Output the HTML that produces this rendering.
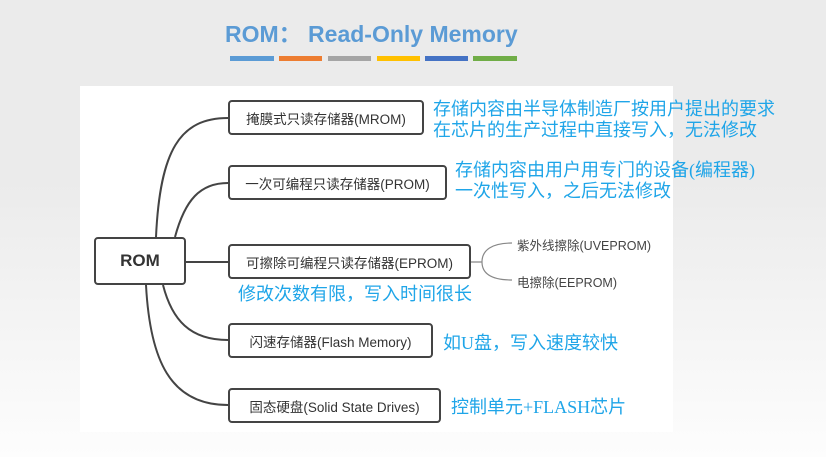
<!DOCTYPE html>
<html><head><meta charset="utf-8"><style>
body{margin:0;width:826px;height:457px;overflow:hidden;background:linear-gradient(#ebebeb 0,#ebebeb 40%,#fdfdfd 100%);font-family:"Liberation Sans","Noto Sans CJK SC",sans-serif;position:relative}
.a{position:absolute}
.box{position:absolute;border:2px solid #444;border-radius:4px;background:#fff;color:#333;font-size:13.5px;display:flex;align-items:center;justify-content:center;box-sizing:border-box;white-space:nowrap}
.n{position:absolute;color:#1fa5e8;font-size:18px;line-height:21px;white-space:nowrap;font-family:"Liberation Serif","Noto Sans CJK SC",sans-serif}
.s{position:absolute;color:#444;font-size:12.5px;white-space:nowrap}
</style></head><body>
<span class="a" style="left:225px;top:15px;font-size:23px;font-weight:bold;color:#5b9bd5">ROM：&nbsp;Read-Only Memory</span>
<div class="a" style="left:230px;top:56px;width:44px;height:5px;background:#5b9bd5"></div>
<div class="a" style="left:279px;top:56px;width:43px;height:5px;background:#ed7d31"></div>
<div class="a" style="left:328px;top:56px;width:43px;height:5px;background:#a5a5a5"></div>
<div class="a" style="left:377px;top:56px;width:43px;height:5px;background:#ffc000"></div>
<div class="a" style="left:425px;top:56px;width:43px;height:5px;background:#4472c4"></div>
<div class="a" style="left:473px;top:56px;width:44px;height:5px;background:#70ad47"></div>
<div class="a" style="left:80px;top:86px;width:593px;height:346px;background:#fff"></div>
<svg class="a" style="left:0;top:0" width="826" height="457" fill="none" stroke="#444" stroke-width="2">
<path d="M156 237 C160 150 180 118 228 118"/>
<path d="M175 237 C185 200 200 183 228 183"/>
<path d="M186 262 H228"/>
<path d="M146 285 C150 360 170 405 228 405"/>
<path d="M163 285 C172 320 190 340 228 340"/>
<path d="M471 262 H482 M482 262 C482 250 492 243 512 243 M482 262 C482 274 492 280 512 280" stroke="#888" stroke-width="1.2"/>
</svg>
<div class="box" style="left:94px;top:237px;width:92px;height:48px;font-size:17px;font-weight:bold">ROM</div>
<div class="box" style="left:228px;top:100px;width:196px;height:35px">掩膜式只读存储器(MROM)</div>
<div class="box" style="left:228px;top:165px;width:219px;height:35px">一次可编程只读存储器(PROM)</div>
<div class="box" style="left:228px;top:244px;width:243px;height:35px">可擦除可编程只读存储器(EPROM)</div>
<div class="box" style="left:228px;top:323px;width:205px;height:35px">闪速存储器(Flash Memory)</div>
<div class="box" style="left:228px;top:388px;width:213px;height:35px">固态硬盘(Solid State Drives)</div>
<div class="s" style="left:517px;top:235px">紫外线擦除(UVEPROM)</div>
<div class="s" style="left:517px;top:272px">电擦除(EEPROM)</div>
<div class="n" style="left:433px;top:99px">存储内容由半导体制造厂按用户提出的要求<br>在芯片的生产过程中直接写入，无法修改</div>
<div class="n" style="left:455px;top:160px">存储内容由用户用专门的设备(编程器)<br>一次性写入，之后无法修改</div>
<div class="n" style="left:238px;top:284px">修改次数有限，写入时间很长</div>
<div class="n" style="left:443px;top:333px">如U盘，写入速度较快</div>
<div class="n" style="left:451px;top:397px">控制单元+FLASH芯片</div>
</body></html>
